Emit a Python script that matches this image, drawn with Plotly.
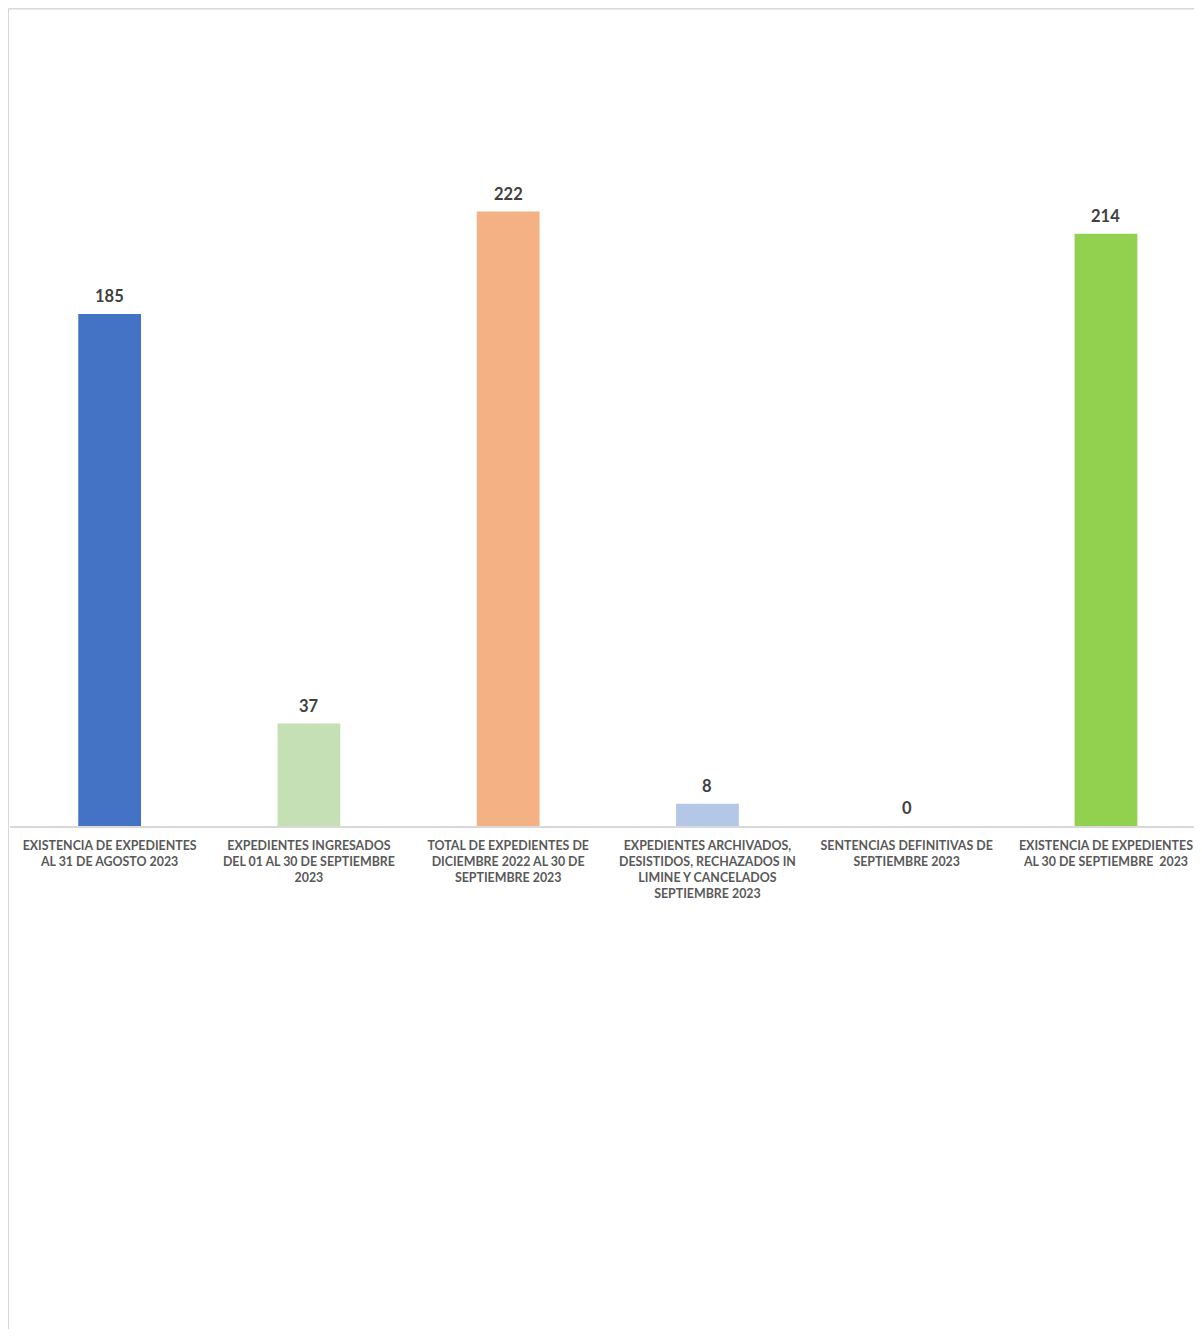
import plotly.graph_objects as go

categories = [
    "EXISTENCIA DE EXPEDIENTES<br>AL 31 DE AGOSTO 2023",
    "EXPEDIENTES INGRESADOS<br>DEL 01 AL 30 DE SEPTIEMBRE<br>2023",
    "TOTAL DE EXPEDIENTES DE<br>DICIEMBRE 2022 AL 30 DE<br>SEPTIEMBRE 2023",
    "EXPEDIENTES ARCHIVADOS,<br>DESISTIDOS, RECHAZADOS IN<br>LIMINE Y CANCELADOS<br>SEPTIEMBRE 2023",
    "SENTENCIAS DEFINITIVAS DE<br>SEPTIEMBRE 2023",
    "EXISTENCIA DE EXPEDIENTES<br>AL 30 DE SEPTIEMBRE  2023",
]
values = [185, 37, 222, 8, 0, 214]
colors = ["#4472C4", "#C5E0B4", "#F4B183", "#B4C7E7", "#A9D18E", "#92D050"]

# page body has an 8px margin, so figure coords = screen coords - 8
W, H = 1186, 1321
ml, mt = 2.4, 22
baseline = 818
plot_h = baseline - mt
mb = H - baseline
px_per_unit = 2.768
ymax = plot_h / px_per_unit
cat_w = 199.2
visible_w = W - ml
xmax = -0.5 + visible_w / cat_w

fig = go.Figure()
fig.add_trace(go.Bar(
    x=list(range(len(categories))),
    y=values,
    marker=dict(color=colors, line=dict(width=0)),
    width=0.315,
    cliponaxis=False,
    hoverinfo="x+y",
))

for i, v in enumerate(values):
    fig.add_annotation(
        x=i, y=v, xref="x", yref="y",
        text=str(v), showarrow=False,
        yanchor="middle", xanchor="center", yshift=18,
        font=dict(family="Lato", size=16.5, color="#404040", weight="bold"),
    )

fig.update_layout(
    width=W, height=H,
    margin=dict(l=ml, r=0, t=mt, b=mb, autoexpand=False),
    paper_bgcolor="white", plot_bgcolor="white",
    showlegend=False,
    font=dict(family="Lato"),
    xaxis=dict(
        tickmode="array",
        tickvals=list(range(len(categories))),
        ticktext=categories,
        range=[-0.5, xmax],
        showgrid=False, zeroline=False,
        showline=True, linecolor="#D9D9D9", linewidth=1.5,
        ticks="", tickangle=0,
        ticklabelstandoff=7,
        ticklabeloverflow="allow",
        tickfont=dict(family="Lato", size=12.4, color="#595959", weight="bold"),
        automargin=False,
        fixedrange=True,
    ),
    yaxis=dict(
        range=[0, ymax],
        showgrid=False, zeroline=False, showline=False,
        showticklabels=False, ticks="",
        automargin=False,
    ),
)

# outer chart border (top and left visible)
pw = W - ml
x0 = (0.75 - ml) / pw
y_top = 1 + (mt - 0.75) / plot_h
fig.add_shape(type="line", xref="paper", yref="paper",
              x0=x0, x1=1.01, y0=y_top, y1=y_top,
              line=dict(color="#D9D9D9", width=1.5))
fig.add_shape(type="line", xref="paper", yref="paper",
              x0=x0, x1=x0, y0=y_top, y1=-(mb + 5) / plot_h,
              line=dict(color="#D9D9D9", width=1.5))

fig.write_html("out.html")
